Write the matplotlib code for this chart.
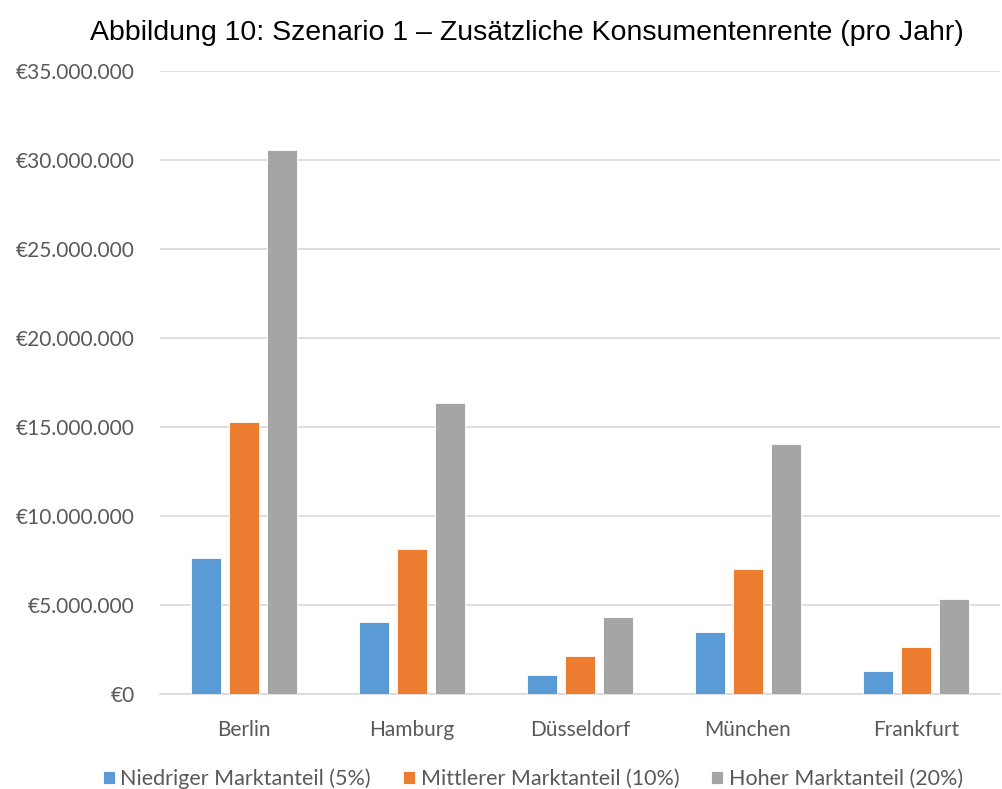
import matplotlib
matplotlib.use("Agg")
import matplotlib.pyplot as plt
import numpy as np
from matplotlib.ticker import FuncFormatter

categories = ["Berlin", "Hamburg", "Düsseldorf", "München", "Frankfurt"]
series_names = ["Niedriger Marktanteil (5%)", "Mittlerer Marktanteil (10%)", "Hoher Marktanteil (20%)"]
niedrig = [7.62e6, 4.07e6, 1.04e6, 3.47e6, 1.31e6]
mittel = [15.27e6, 8.17e6, 2.12e6, 7.0e6, 2.63e6]
hoch = [30.56e6, 16.37e6, 4.31e6, 14.07e6, 5.32e6]
colors = ["#5b9bd5", "#ed7d31", "#a5a5a5"]
yticks = [0, 5e6, 10e6, 15e6, 20e6, 25e6, 30e6, 35e6]

fig = plt.figure(figsize=(10.02, 7.89), dpi=100)
ax = fig.add_axes([160/1002, 1-694/789, 840/1002, (694-71)/789])

x = np.arange(len(categories))
w = 0.18
off = 0.224
for i, (vals, c, name) in enumerate(zip([niedrig, mittel, hoch], colors, series_names)):
    ax.bar(x + (i-1)*off, vals, width=w, color=c, label=name, zorder=3,
           edgecolor="white", linewidth=0.6)

ax.set_xlim(-0.5, len(categories)-0.5)
ax.set_ylim(0, 35e6)
ax.set_yticks(yticks)
def fmt(v, pos):
    if v == 0:
        return "€0"
    return "€" + f"{int(v):,}".replace(",", ".")
ax.yaxis.set_major_formatter(FuncFormatter(fmt))
ax.set_xticks(x)
ax.set_xticklabels(categories)
ax.grid(axis="y", color="#d9d9d9", linewidth=1.2, zorder=0)
for s in ["top", "right", "left"]:
    ax.spines[s].set_visible(False)
ax.spines["bottom"].set_color("#d9d9d9")
ax.spines["bottom"].set_linewidth(1.2)
ax.tick_params(axis="both", length=0, labelsize=15, colors="#595959", labelfontfamily="Lato")
ax.tick_params(axis="y", pad=18)
ax.tick_params(axis="x", pad=19)

fig.text(527/1002, 1-33/789, "Abbildung 10: Szenario 1 – Zusätzliche Konsumentenrente (pro Jahr)",
         ha="center", va="center", fontsize=20.5, family="Liberation Sans", color="black")

leg = fig.legend(loc="center", bbox_to_anchor=(533/1002, 1-779/789), ncol=3, frameon=False,
                 prop={"family": "Lato", "size": 15.5}, handlelength=0.55, handleheight=0.55,
                 handletextpad=0.25, columnspacing=1.5)
for t in leg.get_texts():
    t.set_color("#595959")

fig.savefig("out.png", dpi=100)
